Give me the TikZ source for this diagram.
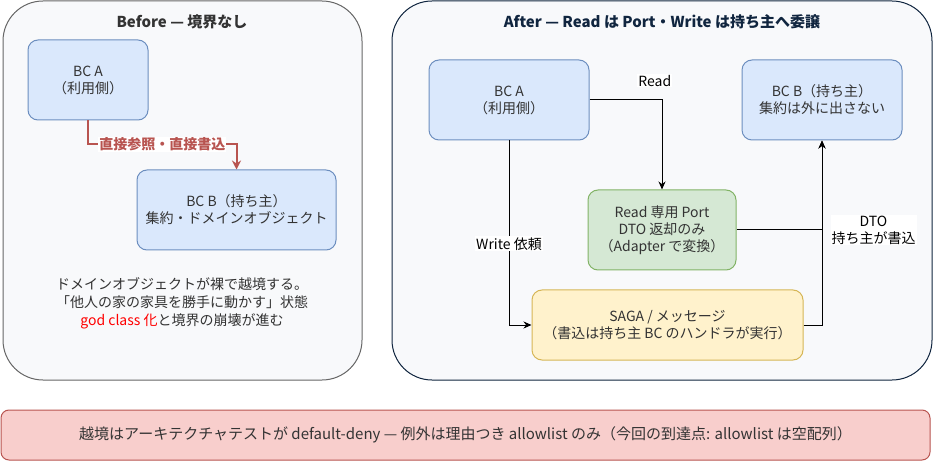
\documentclass[tikz,border=0pt]{standalone}
\usepackage{fontspec}
\setmainfont{Noto Sans CJK JP}
\usetikzlibrary{positioning,arrows.meta,calc}
\definecolor{panelbg}{HTML}{F8F9FB}
\definecolor{panelgray}{HTML}{666666}
\definecolor{panelnavy}{HTML}{10253F}
\definecolor{bcfill}{HTML}{DAE8FC}
\definecolor{bcline}{HTML}{6C8EBF}
\definecolor{portfill}{HTML}{D5E8D4}
\definecolor{portline}{HTML}{82B366}
\definecolor{sagafill}{HTML}{FFF2CC}
\definecolor{sagaline}{HTML}{D6B656}
\definecolor{warnfill}{HTML}{F8CECC}
\definecolor{warnline}{HTML}{B85450}
\definecolor{txt}{HTML}{333333}

\begin{document}
\begin{tikzpicture}[x=1pt, y=-1pt,
    font=\fontsize{14}{17}\selectfont,
    panel/.style={draw, line width=1pt, fill=panelbg, rounded corners=40pt, inner sep=0pt},
    box/.style={draw, line width=1pt, rounded corners=10pt, align=center, text=txt, inner sep=0pt},
    bcbox/.style={box, fill=bcfill, draw=bcline, minimum height=80},
    ttl/.style={font=\fontsize{15}{18}\selectfont\bfseries},
    lab/.style={fill=white, inner sep=1pt, align=center, text=black},
    arr/.style={-{Stealth[length=8pt, width=7pt]}, line width=1pt}]
  \useasboundingbox (0,0) rectangle (934,462);
  % before
  \node[panel, draw=panelgray, minimum width=359, minimum height=379] (before) at (182.5,190.5) {};
  \node[ttl, text=txt] (beforettl) at (182,22) {Before — 境界なし};
  \node[bcbox, minimum width=120] (bca) at (88,80) {BC A\\（利用側）};
  \node[bcbox, minimum width=199] (bcb) at (236.5,210) {BC B（持ち主）\\集約・ドメインオブジェクト};
  \draw[-{Stealth[length=9pt, width=9pt]}, draw=warnline, line width=2pt] (bca.south) |- node[lab, pos=0.75, text=warnline, font=\fontsize{14}{17}\selectfont\bfseries] (direct) {直接参照・直接書込} ($(bcb.north)+(0,-25)$) -- (bcb.north);
  \node[text=txt, align=center, font=\fontsize{14}{18}\selectfont] (bloat) at (182,303) {ドメインオブジェクトが裸で越境する。\\「他人の家の家具を勝手に動かす」状態\\{\color{red}god class 化}と境界の崩壊が進む};
  % after
  \node[panel, draw=panelnavy, minimum width=540, minimum height=379] (after) at (662,190.5) {};
  \node[ttl, text=panelnavy] (afterttl) at (662,22) {After — Read は Port・Write は持ち主へ委譲};
  \node[bcbox, minimum width=160] (usr) at (509,100) {BC A\\（利用側）};
  \node[bcbox, minimum width=160] (own) at (822,100) {BC B（持ち主）\\集約は外に出さない};
  \node[box, fill=portfill, draw=portline, minimum width=148, minimum height=80] (port) at (662,230) {Read 専用 Port\\DTO 返却のみ\\（Adapter で変換）};
  \node[box, fill=sagafill, draw=sagaline, minimum width=271, minimum height=70] (saga) at (667.5,325) {SAGA / メッセージ\\（書込は持ち主 BC のハンドラが実行）};
  \draw[arr] (usr.east) -| node[lab, pos=0.45, above=12pt] (readlab) {Read} (port.north);
  \draw[arr] (usr.south) |- node[lab, pos=0.28] (writelab) {Write 依頼} (saga.west);
  \draw[arr] (port.east) -| node[lab, pos=0.5, right=8pt] (dtolab) {DTO\\持ち主が書込} (own.south);
  \draw[arr] (saga.east) -| (own.south);
  % rule
  \node[box, fill=warnfill, draw=warnline, rounded corners=8pt, minimum width=929, minimum height=50, font=\fontsize{15}{18}\selectfont] (rule) at (465.5,435) {越境はアーキテクチャテストが default-deny — 例外は理由つき allowlist のみ（今回の到達点: allowlist は空配列）};
\end{tikzpicture}
\end{document}
